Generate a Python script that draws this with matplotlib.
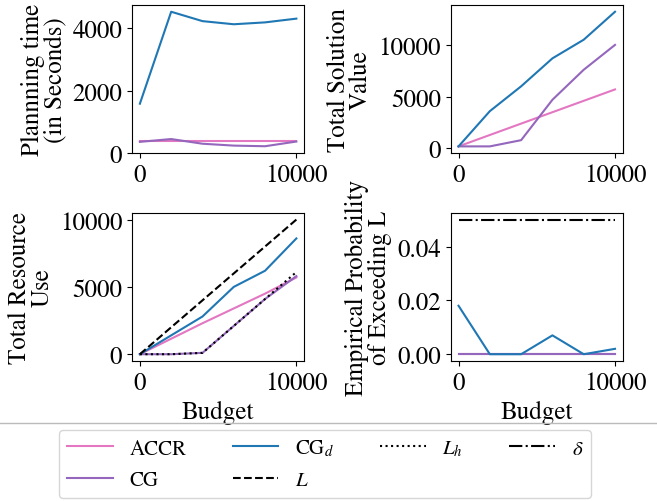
import numpy as np
import matplotlib
matplotlib.use('Agg')
import matplotlib.pyplot as plt
from matplotlib.lines import Line2D

plt.rcParams['font.family'] = ['STIXGeneral', 'DejaVu Serif']
plt.rcParams['mathtext.fontset'] = 'stix'
plt.rcParams['font.size'] = 18

# Given data to plot
budget = [0, 2000, 4000, 6000, 8000, 10000]

time_accr = [390, 390, 390, 390, 390, 390]
time_cg = [360, 450, 300, 240, 220, 370]
time_cgd = [1580, 4520, 4220, 4120, 4180, 4300]

value_accr = [200, 1300, 2400, 3500, 4600, 5700]
value_cg = [200, 200, 800, 4700, 7600, 10000]
value_cgd = [200, 3600, 6000, 8700, 10500, 13200]

use_accr = [0, 1150, 2300, 3400, 4500, 5700]
use_cg = [0, 0, 100, 2100, 4100, 5800]
use_cgd = [0, 1400, 2800, 5000, 6200, 8600]
use_L = [0, 2000, 4000, 6000, 8000, 10000]
use_Lh = [0, 0, 100, 2100, 4100, 6100]

prob_accr = [0, 0, 0, 0, 0, 0]
prob_cg = [0, 0, 0, 0, 0, 0]
prob_cgd = [0.018, 0, 0, 0.007, 0, 0.002]
prob_delta = [0.05, 0.05, 0.05, 0.05, 0.05, 0.05]

c_accr = '#e377c2'
c_cg = '#9467bd'
c_cgd = '#1f77b4'

fig = plt.figure(figsize=(6.57, 5.02), dpi=100)
w, h = 0.262, 0.295
ax1 = fig.add_axes([0.201, 0.693, w, h])
ax2 = fig.add_axes([0.686, 0.693, w, h])
ax3 = fig.add_axes([0.201, 0.279, w, h])
ax4 = fig.add_axes([0.686, 0.279, w, h])

ax1.plot(budget, time_accr, color=c_accr, lw=1.5)
ax1.plot(budget, time_cg, color=c_cg, lw=1.5)
ax1.plot(budget, time_cgd, color=c_cgd, lw=1.5)
ax1.set_ylabel('Plannning time\n(in Seconds)', linespacing=0.9)
ax1.set_yticks([0, 2000, 4000])

ax2.plot(budget, value_accr, color=c_accr, lw=1.5)
ax2.plot(budget, value_cg, color=c_cg, lw=1.5)
ax2.plot(budget, value_cgd, color=c_cgd, lw=1.5)
ax2.set_ylabel('Total Solution\nValue', linespacing=0.9)
ax2.set_yticks([0, 5000, 10000])

ax3.plot(budget, use_accr, color=c_accr, lw=1.5)
ax3.plot(budget, use_cg, color=c_cg, lw=1.5)
ax3.plot(budget, use_cgd, color=c_cgd, lw=1.5)
ax3.plot(budget, use_L, color='k', ls='--', lw=1.5)
ax3.plot(budget, use_Lh, color='k', ls=':', lw=1.5)
ax3.set_ylabel('Total Resource\nUse', linespacing=0.9)
ax3.set_xlabel('Budget')
ax3.set_yticks([0, 5000, 10000])

ax4.plot(budget, prob_accr, color=c_accr, lw=1.5)
ax4.plot(budget, prob_cg, color=c_cg, lw=1.5)
ax4.plot(budget, prob_cgd, color=c_cgd, lw=1.5)
ax4.plot(budget, prob_delta, color='k', ls='-.', lw=1.5)
ax4.set_ylabel('Empirical Probability\nof Exceeding L', linespacing=0.9)
ax4.set_xlabel('Budget')
ax4.set_yticks([0, 0.02, 0.04])

for ax in (ax1, ax2, ax3, ax4):
    ax.set_xticks([0, 10000])

fig.add_artist(Line2D([0, 1], [0.155, 0.155], color='#bbbbbb', lw=1,
                      transform=fig.transFigure))

handles = [
    Line2D([], [], color=c_accr, lw=1.5),
    Line2D([], [], color=c_cg, lw=1.5),
    Line2D([], [], color=c_cgd, lw=1.5),
    Line2D([], [], color='k', ls='--', lw=1.5),
    Line2D([], [], color='k', ls=':', lw=1.5),
    Line2D([], [], color='k', ls='-.', lw=1.5),
]
labels = ['ACCR', 'CG', 'CG$_d$', '$L$', '$L_h$', r'$\delta$']
fig.legend(handles, labels, loc='upper center', bbox_to_anchor=(0.495, 0.142),
           ncol=4, fontsize=15, handlelength=2.2, handletextpad=0.8,
           columnspacing=2.2, borderaxespad=0, labelspacing=0.55)

fig.savefig('out.png', dpi=100)
